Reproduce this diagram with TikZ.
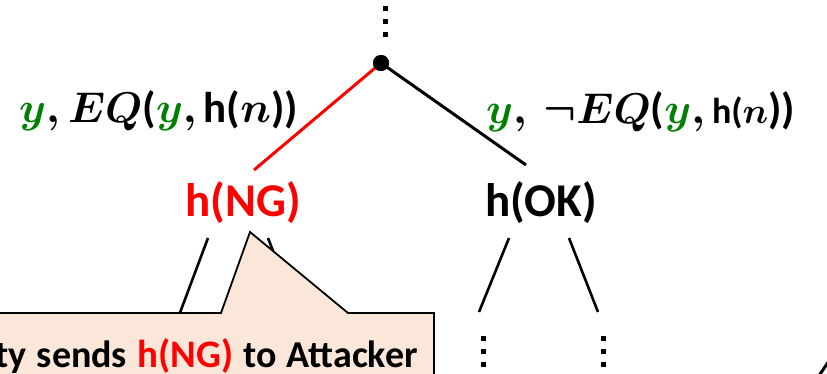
\documentclass[tikz,border=0pt]{standalone}
\usepackage{fontspec}
\setmainfont{Carlito}
% scalable (bold) math fonts for the large labels
\DeclareFontShape{OML}{cmm}{m}{it}{<->cmmi10}{}
\DeclareFontShape{OML}{cmm}{b}{it}{<->cmmib10}{}
\DeclareFontShape{OMS}{cmsy}{m}{n}{<->cmsy10}{}
\DeclareFontShape{OMS}{cmsy}{b}{n}{<->cmbsy10}{}
\DeclareFontShape{OT1}{cmr}{m}{n}{<->cmr10}{}
\DeclareFontShape{OT1}{cmr}{bx}{n}{<->cmbx10}{}
\definecolor{vargreen}{rgb}{0,0.5,0}
\definecolor{hotred}{rgb}{1,0,0}
\definecolor{notefill}{RGB}{251,231,217}
\newcommand{\gy}{\textcolor{vargreen}{$y$}}
\begin{document}
\begin{tikzpicture}[x=1pt,y=-1pt,
  lbl/.style={inner sep=0pt, font=\fontsize{43}{50}\selectfont\boldmath},
  hnode/.style={inner sep=0pt, font=\fontsize{47}{50}\selectfont\bfseries},
  edge/.style={line width=3pt},
  stub/.style={line width=2.6pt},
  vdot/.style={fill=black},
  note/.style={fill=notefill, draw=black, line width=1.8pt, line join=miter},
  notetext/.style={inner sep=0pt, font=\fontsize{38}{42}\selectfont\bfseries}
]
\useasboundingbox (0,0) rectangle (827,374);
\clip (0,0) rectangle (827,374);

% vertical ellipsis above the root
\foreach \dy in {0,13,26} \fill[vdot] (382.5,6.5+\dy) rectangle ++(5,5);

% tree nodes
\node[circle, fill=black, inner sep=0pt, minimum size=16pt] (root) at (381,63) {};
\node[hnode, text=hotred, anchor=base] (ng) at (243,216) {h(NG)};
\node[hnode, anchor=base] (ok) at (541,216) {h(OK)};

% edge end points
\coordinate (ngtop) at (254,170);
\coordinate (oktop) at (526,165);
\draw[edge, hotred] (root.center) -- (ngtop);
\draw[edge] (root.center) -- (oktop);
\node[circle, fill=black, inner sep=0pt, minimum size=16pt] at (root) {};

% edge labels
\node[lbl, anchor=base east] (lblL) at (298,123)
  {\gy$,EQ$\textbf{(}\gy$,$\,\textbf{h(}$n$\textbf{))}};
\node[lbl, anchor=base west] (lblR) at (486,124)
  {\gy$,\,\neg EQ$\textbf{(}\gy$,$\,{\fontsize{36}{36}\selectfont\textbf{h(}$n$}\textbf{))}};

% children of h(OK)
\coordinate (okL1) at (509,238); \coordinate (okL2) at (479,312);
\coordinate (okR1) at (569,238); \coordinate (okR2) at (598,312);
\draw[stub] (okL1) -- (okL2);
\draw[stub] (okR1) -- (okR2);
\foreach \dy in {0,13,26} {
  \fill[vdot] (480.5,335.5+\dy) rectangle ++(5,5);
  \fill[vdot] (600.5,335.5+\dy) rectangle ++(5,5);
}

% children of h(NG), partly hidden by the callout
\coordinate (ngL1) at (208,238); \coordinate (ngL2) at (178,318);
\coordinate (ngR1) at (268,238); \coordinate (ngR2) at (299,318);
\draw[stub] (ngL1) -- (ngL2);
\draw[stub] (ngR1) -- (ngR2);

% callout
\draw[note] (-10,313) -- (221,313) -- (250,232) -- (348,313) -- (434,313)
  -- (434,390) -- (-10,390) -- cycle;
\node[notetext, anchor=base east] (msg) at (418,367)
  {\spaceskip=0.27em Party sends \textcolor{hotred}{\fontsize{39}{42}\selectfont h(NG)} to Attacker};

% stroke entering at the lower right corner
\coordinate (cA) at (818,377); \coordinate (cB) at (829,361);
\draw[edge] (cA) -- (cB);
\end{tikzpicture}
\end{document}
